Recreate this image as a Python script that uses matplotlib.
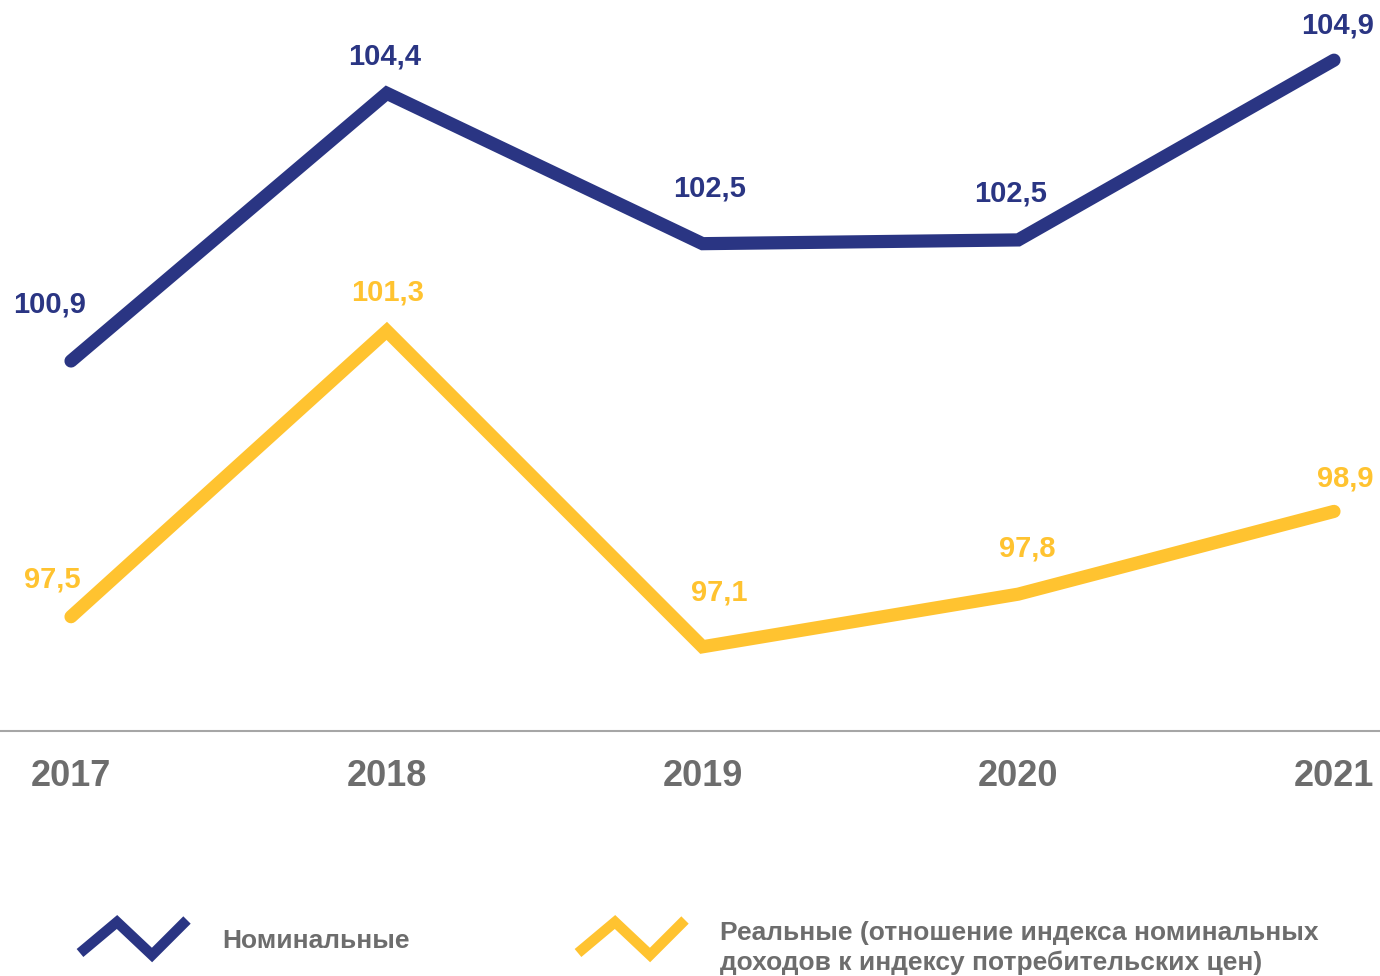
import matplotlib
matplotlib.use("Agg")
import matplotlib.pyplot as plt
from matplotlib.lines import Line2D

plt.rcParams['font.family'] = ['Liberation Sans', 'DejaVu Sans']

years = ["2017", "2018", "2019", "2020", "2021"]
nominal = [100.9, 104.46, 102.46, 102.51, 104.9]
real = [97.5, 101.3, 97.1, 97.8, 98.9]
nominal_labels = ["100,9", "104,4", "102,5", "102,5", "104,9"]
real_labels = ["97,5", "101,3", "97,1", "97,8", "98,9"]
legend_labels = ["Номинальные",
                 "Реальные (отношение индекса номинальных\nдоходов к индексу потребительских цен)"]

NAVY = "#2a3583"
YELLOW = "#ffc330"
GRAY = "#6d6d6d"

fig = plt.figure(figsize=(13.8, 9.76), dpi=100)
ax = fig.add_axes([0, 0.251, 1, 0.749])
x = list(range(len(years)))

ax.plot(x, nominal, color=NAVY, lw=9.5, solid_capstyle='round', solid_joinstyle='miter')
ax.plot(x, real, color=YELLOW, lw=9.5, solid_capstyle='round', solid_joinstyle='miter')

nom_off = [(-21, 56), (-2, 37), (7, 55), (-8, 46), (4, 35)]
real_off = [(-19, 37), (1, 38), (17, 54), (9, 46), (11, 33)]
for i in x:
    ax.annotate(nominal_labels[i], (i, nominal[i]), xytext=nom_off[i], textcoords='offset pixels',
                ha='center', va='center', fontsize=21, fontweight='bold', color=NAVY)
    ax.annotate(real_labels[i], (i, real[i]), xytext=real_off[i], textcoords='offset pixels',
                ha='center', va='center', fontsize=21, fontweight='bold', color=YELLOW)

ax.set_xlim(-0.2249, 4.1457)
ax.set_ylim(95.98, 105.70)
ax.set_xticks(x)
ax.set_xticklabels(years, fontsize=26, fontweight='bold', color=GRAY)
ax.tick_params(axis='x', length=0, pad=20)
ax.set_yticks([])
for s in ['top', 'left', 'right']:
    ax.spines[s].set_visible(False)
ax.spines['bottom'].set_color('#a6a6a6')
ax.spines['bottom'].set_linewidth(1.5)
ax.patch.set_alpha(0)

W, H = 1380, 976
def fx(px):
    return px / W
def fy(py):
    return 1 - py / H

zig1 = [(80, 953), (117, 922), (152, 955), (187, 920)]
zig2 = [(578, 953), (615, 922), (650, 955), (685, 920)]
for pts, col in [(zig1, NAVY), (zig2, YELLOW)]:
    fig.add_artist(Line2D([fx(p[0]) for p in pts], [fy(p[1]) for p in pts],
                          color=col, lw=7.5, solid_capstyle='butt', solid_joinstyle='miter',
                          transform=fig.transFigure))

fig.text(fx(222), fy(941), legend_labels[0], ha='left', va='center', fontsize=19,
         fontweight='bold', color=GRAY)
fig.text(fx(720), fy(948), legend_labels[1], ha='left', va='center', fontsize=19,
         fontweight='bold', color=GRAY, linespacing=1.25)

fig.savefig("out.png", dpi=100)
